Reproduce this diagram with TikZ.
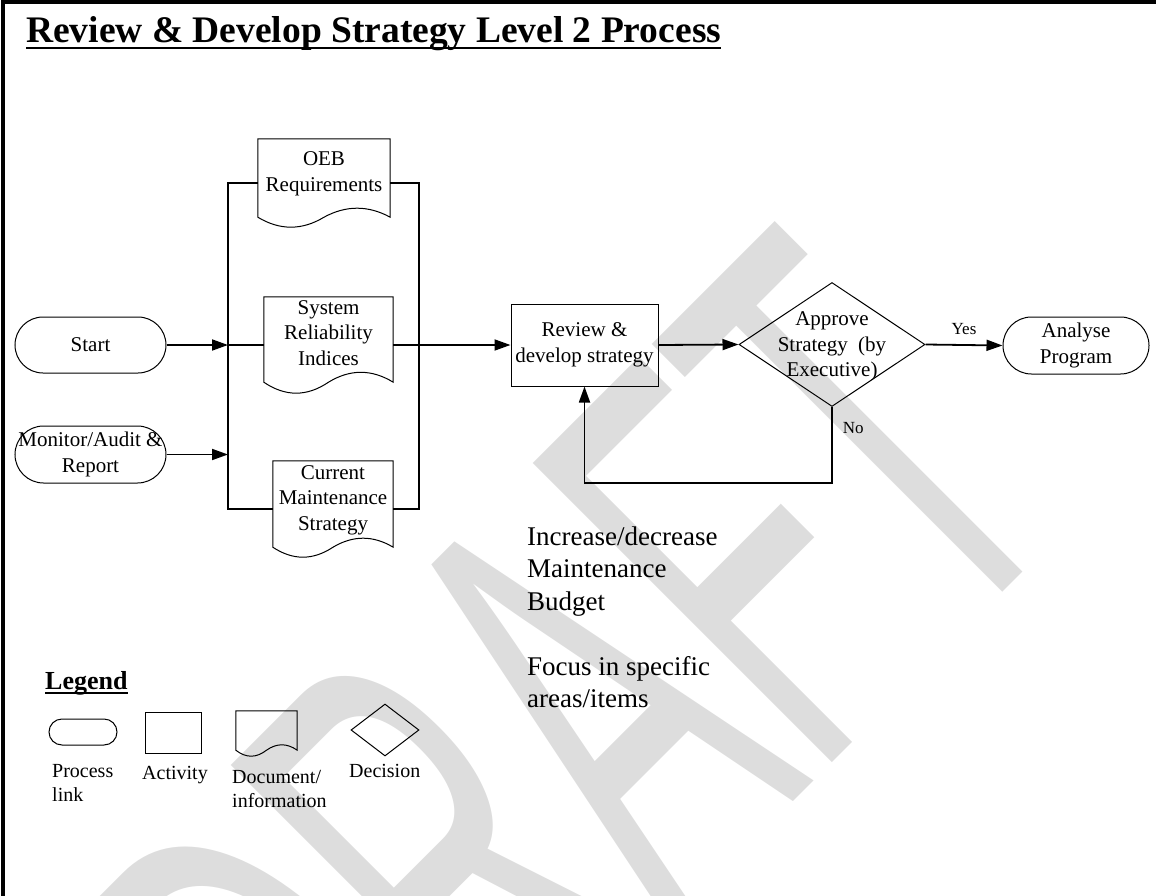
\documentclass[tikz,border=0pt]{standalone}
\usepackage{fontspec}
\setmainfont{Liberation Serif}
\newfontfamily\wmfont{Liberation Sans}
\usetikzlibrary{shapes.geometric,shapes.misc,arrows.meta,calc}
\definecolor{wmgray}{RGB}{221,221,221}
\newcommand\fsz[2]{\fontsize{#1}{#2}\selectfont}
% outline of a document symbol: straight top and sides, wavy bottom edge
% #1 node name, #2 height of the wave above the node's south side
\newcommand\docoutline[2]{%
  \draw[shapeline] let \p1=(#1.north west), \p2=(#1.south east),
      \n1={\x2-\x1}, \n2={#2} in
    (\x1,{\y2+\n2*1pt}) -- (\x1,\y1) -- (\x2,\y1) -- (\x2,{\y2+\n2*1pt})
    .. controls ({\x2-\n1*1pt/6},{\y2+2.2*\n2*1pt}) and ({\x2-\n1*1pt/3},{\y2+2.2*\n2*1pt})
    .. ({\x1+\n1*1pt/2},{\y2+\n2*1pt})
    .. controls ({\x1+\n1*1pt/3},{\y2-0.33*\n2*1pt}) and ({\x1+\n1*1pt/6},{\y2-0.33*\n2*1pt})
    .. cycle;}
\tikzset{
  shapeline/.style={draw, line width=1pt},
  proclink/.style={rounded rectangle, shapeline},
  activity/.style={rectangle, shapeline},
  docbox/.style={rectangle, draw=none},
  decision/.style={diamond, shapeline},
  conn/.style={line width=1.8pt},
  arr/.style={conn, -{Triangle[length=16pt,width=11pt]}},
  small/.style={font=\fsz{17}{20}},
  legtext/.style={font=\fsz{20}{24}, align=left, anchor=north west},
  wmark/.style={font=\wmfont\fsz{615}{615}, text=wmgray, anchor=base west}
}
\begin{document}
\begin{tikzpicture}[x=1pt,y=-1pt, every node/.style={inner sep=0pt, font=\fsz{21}{25.5}}]
\useasboundingbox (0,0) rectangle (1156,896);

% watermark
\begin{scope}
  \clip (0,0) rectangle (1156,896);
  \node[wmark, rotate=45, xscale=0.5] (wm) at (355,1240) {DRAFT};
\end{scope}

% frame
\draw[line width=4pt] (2.5,896) -- (2.5,2.5) -- (1156,2.5);

% title
\node[font=\bfseries\fsz{37.5}{44}, anchor=base west] (title) at (26,43)
  {Review \& Develop Strategy Level 2 Process};
\draw[line width=2.5pt] ([yshift=-5pt]title.base west) -- ([yshift=-5pt]title.base east);

% process links
\node[proclink, minimum width=151pt, minimum height=56pt] (start) at (90.5,345) {Start};
\node[proclink, minimum width=151pt, minimum height=57pt,
      label={[align=center]center:Monitor/Audit \&\\Report}] (monitor) at (90.5,454.5) {};
\node[proclink, minimum width=146pt, minimum height=57pt, align=center] (analyse) at (1076,345.5) {Analyse\\Program};

% input documents
\node[docbox, minimum width=132pt, minimum height=88pt,
      label={[align=center,yshift=9pt]center:OEB\\Requirements}] (oeb) at (324,183) {};
\node[docbox, minimum width=129pt, minimum height=96pt,
      label={[align=center,yshift=12pt]center:System\\Reliability\\Indices}] (sri) at (328.5,345) {};
\node[docbox, minimum width=120pt, minimum height=96pt,
      label={[align=center,yshift=9pt]center:Current\\Maintenance\\Strategy}] (cms) at (333,509) {};
\docoutline{oeb}{10}
\docoutline{sri}{11}
\docoutline{cms}{10}

% activity and decision
\node[activity, minimum width=147pt, minimum height=82pt, align=center] (review) at (584.5,345)
  {Review \&\\develop strategy};
\node[decision, inner sep=0pt, minimum width=186pt, minimum height=124pt,
      label={[align=center,yshift=-2pt]center:Approve\\Strategy\ \ (by\\Executive)}] (approve) at (832,344.5) {};

% junction points of the input bus
\coordinate (jS) at (228,345);
\coordinate (jM) at (228,454.5);
\coordinate (lt) at (228,183);
\coordinate (lb) at (228,509);
\coordinate (rt) at (419,183);
\coordinate (rb) at (419,509);

% connectors
\draw[arr] (start.east) -- (jS);
\draw[arr] (monitor.east) -- (jM);
\draw[conn] (oeb.west) -- (lt) -- (lb) -- (cms.west);
\draw[conn] (oeb.east) -- (rt) -- (rb) -- (cms.east);
\draw[conn] (jS) -- (sri.west);
\draw[arr] (sri.east) -- (review.west);
\draw[arr] (review.east) -- (approve.west);
\draw[arr] (approve.east) -- node[small, midway, above=9pt] {Yes} (analyse.west);
\draw[arr] (approve.south) -- node[small, pos=0.27, right=10pt] {No} ++(0,76) -| (review.south);

% notes
\node[font=\fsz{27}{32.5}, align=left, anchor=north west] (notes) at (527,526.5)
  {Increase/decrease\\Maintenance\\Budget\\[32.5pt]Focus in specific\\areas/items};

% legend
\node[font=\bfseries\fsz{26}{30}, anchor=base west] (legend) at (45,689) {Legend};
\draw[line width=2pt] ([yshift=-4pt]legend.base west) -- ([yshift=-4pt]legend.base east);
\node[proclink, minimum width=68pt, minimum height=26pt] (lgproc) at (83,732) {};
\node[activity, minimum width=56pt, minimum height=41pt] (lgact) at (173,732.5) {};
\node[docbox, minimum width=61pt, minimum height=45pt] (lgdoc) at (266.5,733.5) {};
\docoutline{lgdoc}{6}
\node[decision, minimum width=68pt, minimum height=52pt] (lgdec) at (385,730) {};
\node[legtext] (lgproct) at (52,764.5) {Process\\link};
\node[legtext] (lgactt) at (142,766.5) {Activity};
\node[legtext] (lgdoct) at (232,770.5) {Document/\\information};
\node[legtext] (lgdect) at (349,764.5) {Decision};
\end{tikzpicture}
\end{document}
